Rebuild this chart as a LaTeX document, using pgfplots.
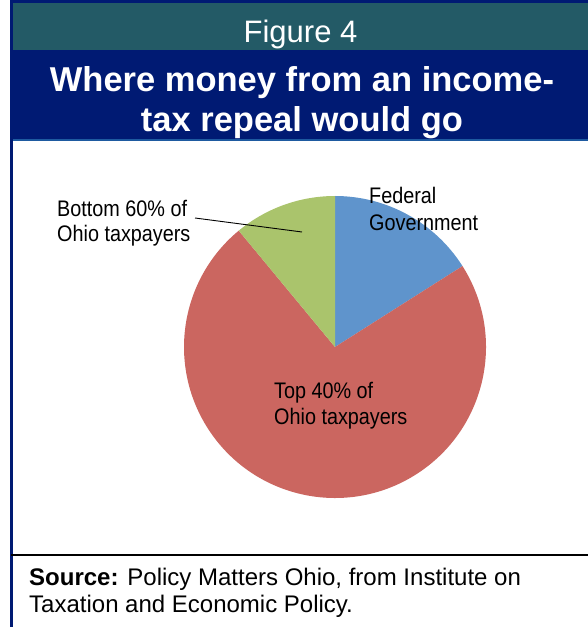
\documentclass[border=0pt]{standalone}
\usepackage{fontspec}
\setmainfont{Liberation Sans}
\newfontfamily\narrowfont[FakeStretch=0.88]{Liberation Sans}
\usepackage{pgfplots}
\pgfplotsset{compat=1.18}
\definecolor{figteal}{RGB}{35,90,102}
\definecolor{navyband}{RGB}{0,26,115}
\definecolor{lineblue}{RGB}{30,90,160}
\definecolor{pieblue}{RGB}{95,148,204}
\definecolor{piered}{RGB}{203,102,96}
\definecolor{piegreen}{RGB}{170,196,108}
% slice shares in percent (clockwise from 12 o'clock)
\def\fedval{16}
\def\topval{73}
\def\botval{11}
\begin{document}
\begin{tikzpicture}
\path[use as bounding box] (0pt,0pt) rectangle (588pt,627pt);
\begin{scope}[shift={(0pt,627pt)}, x=1pt, y=-1pt]
\fill[white] (0,0) rectangle (588,627);
\fill[figteal] (11,3) rectangle (588,50);
\fill[navyband] (11,50) rectangle (588,139);
\fill[lineblue] (11,139) rectangle (588,141);
\fill[navyband] (10,0.5) rectangle (588,3);
\fill[navyband] (10,0.5) rectangle (12.5,627);
\fill[black] (11,554) rectangle (588,556.5);
\end{scope}
\begin{axis}[at={(335pt,280pt)}, anchor=center, scale only axis,
  width=302pt, height=302pt, xmin=-1, xmax=1, ymin=-1, ymax=1,
  hide axis, clip=false]
\pgfmathsetmacro{\aA}{90}
\pgfmathsetmacro{\aB}{90-\fedval*3.6}
\pgfmathsetmacro{\aC}{\aB-\topval*3.6}
\pgfmathsetmacro{\aD}{\aC-\botval*3.6}
\fill[pieblue] (axis cs:0,0) -- (axis cs:{cos(\aA)},{sin(\aA)}) arc[start angle=\aA, end angle=\aB, radius=151pt] -- cycle;
\fill[piered] (axis cs:0,0) -- (axis cs:{cos(\aB)},{sin(\aB)}) arc[start angle=\aB, end angle=\aC, radius=151pt] -- cycle;
\fill[piegreen] (axis cs:0,0) -- (axis cs:{cos(\aC)},{sin(\aC)}) arc[start angle=\aC, end angle=\aD, radius=151pt] -- cycle;
\end{axis}
\begin{scope}[shift={(0pt,627pt)}, x=1pt, y=-1pt]
\draw[black, line width=0.9pt] (195,218) -- (302,232);
\node[anchor=base, inner sep=0, text=white, font=\fontsize{31}{36}\selectfont] at (300.5,43) {Figure 4};
\node[anchor=base, inner sep=0, text=white, align=center, font=\fontsize{34.5}{40.5}\selectfont\bfseries] at (302,132) {Where money from an income-\\tax repeal would go};
\node[anchor=base west, inner sep=0, align=left, font=\narrowfont\fontsize{22.5}{27}\selectfont] at (369,231) {Federal\\Government};
\node[anchor=base west, inner sep=0, align=left, font=\narrowfont\fontsize{22.5}{25}\selectfont] at (57,242) {Bottom 60\% of\\Ohio taxpayers};
\node[anchor=base west, inner sep=0, align=left, font=\narrowfont\fontsize{22.5}{26}\selectfont] at (274,425) {Top 40\% of\\Ohio taxpayers};
\node[anchor=base west, inner sep=0, align=left, font=\fontsize{24}{26}\selectfont] at (29,612) {\textbf{Source:} Policy Matters Ohio, from Institute on\\Taxation and Economic Policy.};
\end{scope}
\end{tikzpicture}
\end{document}
